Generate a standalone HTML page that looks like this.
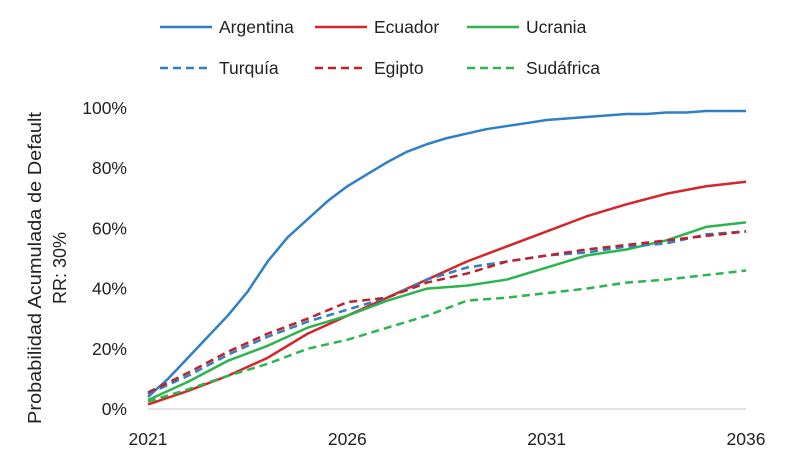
<!DOCTYPE html>
<html><head><meta charset="utf-8"><style>
body{margin:0;background:#fff;}
svg text{font-family:"Liberation Sans",sans-serif;fill:#222;}
</style></head><body>
<svg id="chart" width="800" height="471" xmlns="http://www.w3.org/2000/svg">
<g id="legend"></g>
<g id="axes"></g>
<g id="series"></g>
<text transform="translate(41,268) rotate(-90)" text-anchor="middle" font-size="18" textLength="312" lengthAdjust="spacingAndGlyphs">Probabilidad Acumulada de Default</text>
<text transform="translate(66,268) rotate(-90)" text-anchor="middle" font-size="18">RR: 30%</text>
</svg>
<script>
const argYears=[2021,2021.5,2022,2022.5,2023,2023.5,2024,2024.5,2025,2025.5,2026,2026.5,2027,2027.5,2028,2028.5,2029,2029.5,2030,2030.5,2031,2031.5,2032,2032.5,2033,2033.5,2034,2034.5,2035,2035.5,2036];
const argentina=[4,10,17,24,31,39,49,57,63,69,74,78,82,85.5,88,90,91.5,93,94,95,96,96.5,97,97.5,98,98,98.5,98.5,99,99,99];
const years=[2021,2022,2023,2024,2025,2026,2027,2028,2029,2030,2031,2032,2033,2034,2035,2036];
const ecuador=[1.5,6,11,17,25,31,37,43,49,54,59,64,68,71.5,74,75.5];
const ucrania=[3,9,16,21,27,31,36,40,41,43,47,51,53,56,60.5,62];
const turquia=[5,11,18,24,29,33,37,43,47,49,51,52,54,55,58,59];
const egipto=[5.5,12,19,25,30,35.5,37,42,45,49,51,53,54.5,56,57.5,59];
const sudafrica=[2.5,6.5,11,15,20,23,27,31,36,37,38.5,40,42,43,44.5,46];
const yTicks=[0,20,40,60,80,100];
const yTickLabels=["0%","20%","40%","60%","80%","100%"];
const xTicks=[2021,2026,2031,2036];

const NS="http://www.w3.org/2000/svg";
const X=v=>148+(v-2021)*(746-148)/15;
const Y=v=>409-v*3.01;
function mk(t,a,p){const e=document.createElementNS(NS,t);for(const k in a)e.setAttribute(k,a[k]);p.appendChild(e);return e;}
const axes=document.getElementById('axes');
const bl=mk('line',{x1:148,x2:746,y1:409,y2:409,stroke:'#d9d9d9','stroke-width':1.5},axes);


yTicks.forEach((v,i)=>{const t=mk('text',{x:127,y:Y(v)+6,'text-anchor':'end','font-size':17.5},axes);t.textContent=yTickLabels[i];

});
xTicks.forEach(v=>{const t=mk('text',{x:X(v),y:445,'text-anchor':'middle','font-size':17.5},axes);t.textContent=v;

});
const S=[
{n:'Argentina',xs:argYears,d:argentina,c:'#2e7fc6',dash:null,lx:160,ly:27},
{n:'Ecuador',xs:years,d:ecuador,c:'#d3262a',dash:null,lx:315,ly:27},
{n:'Ucrania',xs:years,d:ucrania,c:'#2cb44e',dash:null,lx:467,ly:27},
{n:'Turquía',xs:years,d:turquia,c:'#2e7fc6',dash:'8,5',lx:160,ly:68},
{n:'Egipto',xs:years,d:egipto,c:'#c0202a',dash:'8,5',lx:315,ly:68},
{n:'Sudáfrica',xs:years,d:sudafrica,c:'#2cb44e',dash:'8,5',lx:467,ly:68}];
const sg=document.getElementById('series'),lg=document.getElementById('legend');
S.forEach(s=>{
const a={points:s.d.map((v,i)=>X(s.xs[i])+','+Y(v)).join(' '),fill:'none',stroke:s.c,'stroke-width':2.5,'stroke-linejoin':'round'};
if(s.dash)a['stroke-dasharray']=s.dash;
const p=mk('polyline',a,sg);


const la={x1:s.lx,x2:s.lx+52,y1:s.ly,y2:s.ly,stroke:s.c,'stroke-width':2.5};
if(s.dash)la['stroke-dasharray']=s.dash;
const l=mk('line',la,lg);


const t=mk('text',{x:s.lx+59,y:s.ly+6,'font-size':17.5},lg);t.textContent=s.n;


});
</script>
</body></html>
